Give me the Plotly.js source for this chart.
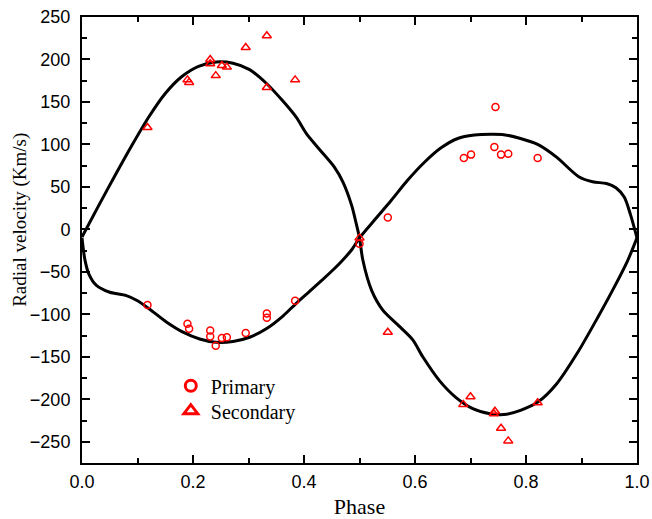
<!DOCTYPE html>
<html>
<head>
<meta charset="utf-8">
<script src="https://cdn.plot.ly/plotly-3.0.1.min.js"></script>
<style>html,body{margin:0;padding:0;background:#fff;}#chart{width:652px;height:519px;}</style>
</head>
<body>
<div id="chart"></div>
<script>
// Observed radial velocities (phase, km/s)
const primaryPhase = [0.118, 0.190, 0.193, 0.231, 0.231, 0.241, 0.252, 0.261, 0.295, 0.333, 0.333, 0.384,
                      0.500, 0.551, 0.688, 0.701, 0.745, 0.743, 0.755, 0.768, 0.821];
const primaryRV    = [-89, -111, -117, -119, -126, -137, -128, -127, -122, -99, -104, -84,
                      -17, 14, 84, 88, 144, 97, 88, 89, 84];
const secondaryPhase = [0.118, 0.190, 0.193, 0.231, 0.231, 0.241, 0.252, 0.261, 0.295, 0.333, 0.333, 0.384,
                        0.500, 0.551, 0.687, 0.700, 0.744, 0.742, 0.755, 0.768, 0.821];
const secondaryRV    = [120, 176, 173, 200, 195, 181, 193, 191, 214, 228, 167, 176,
                        -10, -121, -206, -197, -214, -217, -234, -249, -204];

// Fitted model curves
const fitAPhase = [0.000, 0.030, 0.060, 0.090, 0.120, 0.150, 0.180, 0.210, 0.242, 0.272, 0.302, 0.332, 0.362,
                   0.386, 0.404, 0.428, 0.455, 0.470, 0.486, 0.494, 0.500, 0.506, 0.522, 0.542, 0.570, 0.596,
                   0.614, 0.644, 0.674, 0.704, 0.735, 0.760, 0.790, 0.822, 0.855, 0.893, 0.929, 0.959,
                   0.983, 1.000];
const fitAVel   = [-9, 28, 64, 99, 132, 160, 180, 192, 197, 195.5, 188, 172, 151,
                   132, 113, 94, 73, 56, 28, 7, -10, -36, -72, -95, -113, -130,
                   -150, -178, -198, -211, -217, -218, -213, -203, -182, -145, -104, -68,
                   -37, -10];
const fitBPhase = [0.000, 0.005, 0.012, 0.026, 0.050, 0.080, 0.100, 0.122, 0.152, 0.182, 0.212, 0.242, 0.272,
                   0.302, 0.332, 0.362, 0.386, 0.410, 0.432, 0.455, 0.470, 0.486, 0.500, 0.527, 0.557, 0.587,
                   0.617, 0.647, 0.677, 0.707, 0.737, 0.760, 0.790, 0.821, 0.855, 0.895, 0.920, 0.945, 0.962,
                   0.977, 0.988, 1.000];
const fitBVel   = [-10, -35, -52, -66, -74, -78, -84, -94, -109, -121, -129, -133, -132,
                   -127, -117, -102, -87, -73, -60, -46, -36, -24, -10, 11, 34, 58,
                   79, 96, 107, 111, 112, 111.5, 107, 100, 85, 62, 56, 54, 49,
                   38, 18, -10];

const red = '#ff0000';
const serif = 'Liberation Serif, Times New Roman, serif';
const sans = 'Liberation Sans, Arial, sans-serif';

const traces = [
  {x: fitAPhase, y: fitAVel, mode: 'lines', line: {color: '#000', width: 3, shape: 'spline', smoothing: 0.8}, showlegend: false, hoverinfo: 'skip'},
  {x: fitBPhase, y: fitBVel, mode: 'lines', line: {color: '#000', width: 3, shape: 'spline', smoothing: 0.8}, showlegend: false, hoverinfo: 'skip'},
  {x: primaryPhase, y: primaryRV, mode: 'markers', name: 'Primary', showlegend: false,
   marker: {symbol: 'circle-open', size: 7, color: red, line: {color: red, width: 1.5}}},
  {x: secondaryPhase, y: secondaryRV, mode: 'markers', name: 'Secondary', showlegend: false,
   marker: {symbol: 'triangle-up-open', size: 8, color: red, line: {color: red, width: 1.5}}},
  {x: [null], y: [null], mode: 'markers', name: 'Primary', legend: 'legend',
   marker: {symbol: 'circle-open', size: 11, color: red, line: {color: red, width: 3}}},
  {x: [null], y: [null], mode: 'markers', name: 'Secondary', legend: 'legend2',
   marker: {symbol: 'triangle-up-open', size: 12, color: red, line: {color: red, width: 3}}}
];

const axisCommon = {
  showgrid: false, zeroline: false, showline: true, linecolor: '#000', linewidth: 2,
  mirror: 'ticks', ticks: 'inside', ticklen: 8, tickwidth: 2, tickcolor: '#000',
  tickfont: {family: sans, size: 18, color: '#000'},
};
const legendCommon = {xanchor: 'left', yanchor: 'top', bgcolor: 'rgba(0,0,0,0)',
                      font: {family: serif, size: 20, color: '#000'}};

const layout = {
  width: 652, height: 519,
  margin: {l: 82, r: 15, t: 17, b: 56},
  paper_bgcolor: '#fff', plot_bgcolor: '#fff',
  showlegend: true,
  legend: Object.assign({x: 0.16, y: 0.217}, legendCommon),
  legend2: Object.assign({x: 0.16, y: 0.161}, legendCommon),
  xaxis: Object.assign({}, axisCommon, {
    range: [0, 1], dtick: 0.2, tick0: 0, tickformat: '.1f', ticklabelstandoff: 1,
    minor: {ticks: 'inside', dtick: 0.1, ticklen: 5, tickwidth: 2, tickcolor: '#000'},
    title: {text: 'Phase', font: {family: serif, size: 22, color: '#000'}, standoff: 8}
  }),
  yaxis: Object.assign({}, axisCommon, {
    range: [-275, 250], dtick: 50, tick0: 0, ticklabelstandoff: 6,
    minor: {ticks: 'inside', dtick: 25, ticklen: 5, tickwidth: 2, tickcolor: '#000'}
  }),
  annotations: [{
    text: 'Radial velocity (Km/s)', textangle: -90, showarrow: false,
    xref: 'paper', yref: 'paper', x: -0.1123, y: 0.5445, xanchor: 'center', yanchor: 'middle',
    font: {family: serif, size: 19, color: '#000'}
  }]
};

Plotly.newPlot('chart', traces, layout, {displayModeBar: false, staticPlot: true});
</script>
</body>
</html>
